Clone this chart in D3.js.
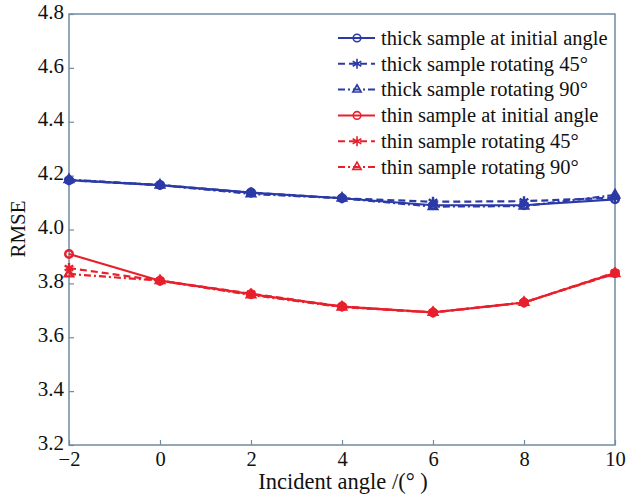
<!DOCTYPE html>
<html>
<head>
<meta charset="utf-8">
<script src="https://cdn.jsdelivr.net/npm/d3@7"></script>
<style>
  body { margin: 0; background: #fff; }
  svg text { font-family: "Liberation Serif", "DejaVu Serif", Times, serif; }
</style>
</head>
<body>
<svg width="628" height="496"></svg>
<script>
  // data
  const angles = [-2, 0, 2, 4, 6, 8, 10];
  const thickInitial = [4.183, 4.165, 4.137, 4.116, 4.09, 4.09, 4.112];
  const thick45 = [4.183, 4.165, 4.137, 4.116, 4.103, 4.105, 4.118];
  const thick90 = [4.185, 4.165, 4.132, 4.116, 4.085, 4.087, 4.128];
  const thinInitial = [3.909, 3.81, 3.76, 3.714, 3.692, 3.729, 3.838];
  const thin45 = [3.857, 3.81, 3.762, 3.714, 3.692, 3.729, 3.84];
  const thin90 = [3.835, 3.81, 3.757, 3.712, 3.692, 3.729, 3.836];
  const xTicks = [-2, 0, 2, 4, 6, 8, 10];
  const yTicks = [3.2, 3.4, 3.6, 3.8, 4.0, 4.2, 4.4, 4.6, 4.8];

  const blue = "#2b3aa6";
  const red = "#e8202c";
  const axisColor = "#6f8ca3";

  const series = [
    { name: "thick sample at initial angle", values: thickInitial, color: blue, dash: null, marker: "circle" },
    { name: "thick sample rotating 45°", values: thick45, color: blue, dash: "7,4", marker: "star" },
    { name: "thick sample rotating 90°", values: thick90, color: blue, dash: "7,3,2,3", marker: "triangle" },
    { name: "thin sample at initial angle", values: thinInitial, color: red, dash: null, marker: "circle" },
    { name: "thin sample rotating 45°", values: thin45, color: red, dash: "7,4", marker: "star" },
    { name: "thin sample rotating 90°", values: thin90, color: red, dash: "7,3,2,3", marker: "triangle" }
  ];

  const svg = d3.select("svg");
  const m = { left: 69, right: 615, top: 14, bottom: 445 };

  const x = d3.scaleLinear().domain([-2, 10]).range([m.left, m.right]);
  const y = d3.scaleLinear().domain([3.2, 4.8]).range([m.bottom, m.top]);

  // axes
  const xAxis = d3.axisBottom(x).tickValues(xTicks).tickSizeInner(-5).tickSizeOuter(0)
    .tickFormat(d => d < 0 ? "\u2212" + Math.abs(d) : d);
  const yAxis = d3.axisLeft(y).tickValues(yTicks).tickSizeInner(-5).tickSizeOuter(0)
    .tickFormat(d3.format(".1f"));

  const gx = svg.append("g").attr("transform", `translate(0,${m.bottom})`).call(xAxis);
  const gy = svg.append("g").attr("transform", `translate(${m.left},0)`).call(yAxis);
  [gx, gy].forEach(g => {
    g.attr("font-family", null).attr("font-size", null);
    g.select(".domain").remove();
    g.selectAll(".tick line").attr("stroke", axisColor).attr("stroke-width", 1.2);
    g.selectAll(".tick text").attr("fill", "#111").style("font-size", "21px");
  });
  gx.selectAll(".tick text").attr("y", 7).attr("dy", "0.68em").style("font-size", "20.5px");
  gy.selectAll(".tick text").attr("x", -5).attr("dy", "0.2em");

  // frame
  svg.append("rect")
    .attr("x", m.left).attr("y", m.top)
    .attr("width", m.right - m.left).attr("height", m.bottom - m.top)
    .attr("fill", "none").attr("stroke", axisColor).attr("stroke-width", 1.5);

  // axis titles
  svg.append("text")
    .attr("x", 343).attr("y", 489)
    .attr("text-anchor", "middle").style("font-size", "22.5px").attr("fill", "#111")
    .text("Incident angle /(° )");
  svg.append("text")
    .attr("transform", `translate(25,229) rotate(-90)`)
    .attr("text-anchor", "middle").style("font-size", "21px").attr("fill", "#111")
    .text("RMSE");

  const line = d3.line().x((d, i) => x(angles[i])).y(d => y(d));

  const markerPath = {
    circle: d3.symbol().type(d3.symbolCircle).size(45),
    star: d3.symbol().type(d3.symbolAsterisk).size(70),
    triangle: d3.symbol().type(d3.symbolTriangle2).size(50)
  };

  function drawMarker(g, type, color, cx, cy, w) {
    g.append("path")
      .attr("d", markerPath[type]())
      .attr("transform", `translate(${cx},${cy})`)
      .attr("fill", "none")
      .attr("stroke", color)
      .attr("stroke-width", w);
  }

  series.forEach(s => {
    svg.append("path")
      .datum(s.values)
      .attr("d", line)
      .attr("fill", "none")
      .attr("stroke", s.color)
      .attr("stroke-width", 2.2)
      .attr("stroke-dasharray", s.dash);
    const g = svg.append("g");
    s.values.forEach((v, i) => drawMarker(g, s.marker, s.color, x(angles[i]), y(v), 2.4));
  });

  // legend
  const legend = svg.append("g");
  series.forEach((s, i) => {
    const ly = 38 + i * 25.8;
    legend.append("line")
      .attr("x1", 338).attr("x2", 375).attr("y1", ly).attr("y2", ly)
      .attr("stroke", s.color).attr("stroke-width", 2)
      .attr("stroke-dasharray", s.dash);
    drawMarker(legend, s.marker, s.color, 357, ly, 1.6);
    legend.append("text")
      .attr("x", 381).attr("y", ly).attr("dy", "0.33em")
      .style("font-size", "20.5px").attr("fill", "#111")
      .text(s.name);
  });
</script>
</body>
</html>
